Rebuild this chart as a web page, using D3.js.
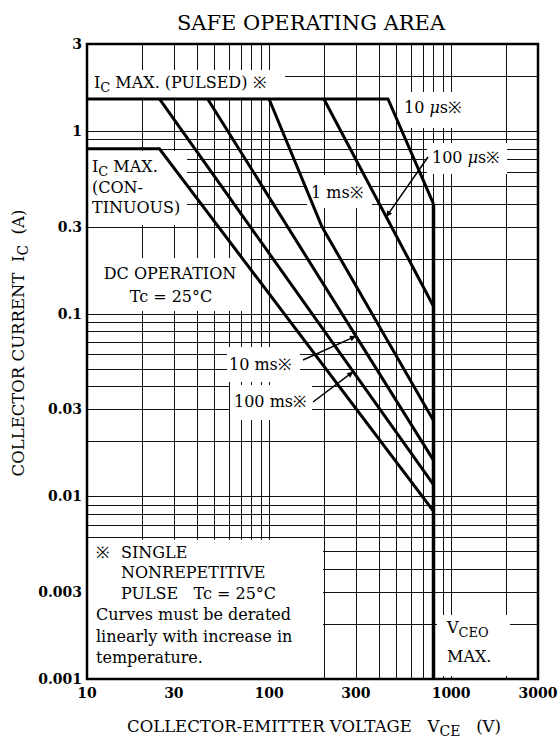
<!DOCTYPE html>
<html>
<head>
<meta charset="utf-8">
<style>
    body { margin: 0; background: #fff; }
    svg { display: block; font-family: 'DejaVu Serif', serif; }
    .grid line { stroke: #111; stroke-width: 1; shape-rendering: crispEdges; }
    .grid path { display: none; }
    .curve { fill: none; stroke: #000; stroke-width: 3; stroke-linejoin: miter; }
    .lbl { font-size: 16px; fill: #000; }
</style>
</head>
<body>
<svg width="560" height="742"></svg>

<script src="https://d3js.org/d3.v7.min.js"></script>
<script>
    // SOA limits, each point is [VCE (V), IC (A)]
    let curve10us = [[10, 1.5], [450, 1.5], [800, 0.4]];
    let curve100us = [[200, 1.5], [800, 0.11]];
    let curve1ms = [[100, 1.5], [195, 0.3], [800, 0.026]];
    let curve10ms = [[46, 1.5], [800, 0.0158]];
    let curve100ms = [[25, 1.5], [800, 0.0116]];
    let curveDC = [[10, 0.8], [25, 0.8], [800, 0.0083]];
    let vceoMax = 800;

    let xTicks = [10, 30, 100, 300, 1000, 3000];
    let yTicks = [3, 1, 0.3, 0.1, 0.03, 0.01, 0.003, 0.001];

    let margin = { top: 44, left: 87 };
    let width = 451, height = 635;

    let svg = d3.select("svg");

    let x = d3.scaleLog().domain([10, 3000]).range([margin.left, margin.left + width]);
    let y = d3.scaleLog().domain([0.001, 3]).range([margin.top + height, margin.top]);

    // gridlines from the log scales' own ticks (1..9 per decade)
    svg.append("g")
        .attr("class", "grid")
        .attr("transform", `translate(0,${margin.top + height})`)
        .call(d3.axisBottom(x).tickValues(x.ticks()).tickSize(-height).tickFormat(""));

    svg.append("g")
        .attr("class", "grid")
        .attr("transform", `translate(${margin.left},0)`)
        .call(d3.axisLeft(y).tickValues(y.ticks()).tickSize(-width).tickFormat(""));

    // white boxes behind the annotations (they cut the grid)
    let masks = [
        [88, 70, 285, 98],    // IC max pulsed
        [400, 92, 470, 128],  // 10 us
        [427, 143, 507, 174], // 100 us
        [307, 175, 372, 208], // 1 ms
        [88, 151, 187, 225],  // IC max continuous
        [88, 258, 250, 311],  // DC operation
        [227, 347, 300, 382], // 10 ms
        [230, 385, 312, 420], // 100 ms
        [88, y(0.006) + 3, 323, 679], // note
        [437, 615, 510, 676]  // VCEO max
    ];
    svg.append("g").selectAll("rect")
        .data(masks)
        .enter().append("rect")
        .attr("x", d => d[0]).attr("y", d => d[1])
        .attr("width", d => d[2] - d[0]).attr("height", d => d[3] - d[1])
        .attr("fill", "#fff");

    // frame
    svg.append("rect")
        .attr("x", margin.left).attr("y", margin.top)
        .attr("width", width).attr("height", height)
        .attr("fill", "none").attr("stroke", "#000").attr("stroke-width", 2.5);

    let line = d3.line().x(d => x(d[0])).y(d => y(d[1]));

    svg.selectAll(".curve")
        .data([curve10us, curve100us, curve1ms, curve10ms, curve100ms, curveDC])
        .enter().append("path")
        .attr("class", "curve")
        .attr("d", line);

    svg.append("line")
        .attr("x1", x(vceoMax)).attr("x2", x(vceoMax))
        .attr("y1", y(0.4)).attr("y2", y(0.001))
        .attr("stroke", "#000").attr("stroke-width", 3.5);

    // tick labels
    svg.selectAll(".xt")
        .data(xTicks)
        .enter().append("text")
        .attr("class", "xt")
        .attr("x", d => x(d))
        .attr("y", 698)
        .attr("text-anchor", "middle")
        .style("font-size", "14px").style("font-weight", "bold")
        .text(d => d);

    svg.selectAll(".yt")
        .data(yTicks)
        .enter().append("text")
        .attr("class", "yt")
        .attr("x", 82)
        .attr("y", d => y(d))
        .attr("dy", "0.35em")
        .attr("text-anchor", "end")
        .style("font-size", "14px").style("font-weight", "bold")
        .text(d => d);

    // title + axis titles
    svg.append("text")
        .attr("x", 311).attr("y", 30)
        .attr("text-anchor", "middle")
        .style("font-size", "21px")
        .text("SAFE OPERATING AREA");

    let xt = svg.append("text").attr("class", "lbl")
        .attr("x", 314).attr("y", 732).attr("text-anchor", "middle")
        .style("font-size", "16.5px");
    xt.append("tspan").text("COLLECTOR-EMITTER VOLTAGE\u00a0\u00a0\u00a0V");
    xt.append("tspan").attr("dy", 4).style("font-size", "14px").text("CE");
    xt.append("tspan").attr("dy", -4).text("\u00a0\u00a0\u00a0(V)");

    let yt = svg.append("text").attr("class", "lbl")
        .attr("transform", "translate(24,343) rotate(-90)")
        .attr("text-anchor", "middle")
        .style("font-size", "16.5px");
    yt.append("tspan").text("COLLECTOR CURRENT\u00a0\u00a0I");
    yt.append("tspan").attr("dy", 4).style("font-size", "14px").text("C");
    yt.append("tspan").attr("dy", -4).text("\u00a0\u00a0(A)");

    // annotations
    function label(px, py, parts) {
        let t = svg.append("text").attr("class", "lbl").attr("x", px).attr("y", py);
        parts.forEach(p => {
            let s = t.append("tspan").text(p.t);
            if (p.sub) s.attr("dy", 3.5).style("font-size", "13px");
            if (p.up) s.attr("dy", -3.5);
            if (p.it) s.style("font-style", "italic");
        });
        return t;
    }

    label(94, 88, [{ t: "I" }, { t: "C", sub: true }, { t: " MAX. (PULSED) \u203b", up: true }]);
    label(404, 113, [{ t: "10 " }, { t: "\u03bc", it: true }, { t: "s\u203b" }]);
    label(432, 163, [{ t: "100 " }, { t: "\u03bc", it: true }, { t: "s\u203b" }]);
    label(311, 198, [{ t: "1 ms\u203b" }]);
    label(92, 172, [{ t: "I" }, { t: "C", sub: true }, { t: " MAX.", up: true }]);
    label(92, 193, [{ t: "(CON-" }]);
    label(92, 213, [{ t: "TINUOUS)" }]);
    label(170, 279, [{ t: "DC OPERATION" }]).attr("text-anchor", "middle");
    label(171, 302, [{ t: "Tc = 25\u00b0C" }]).attr("text-anchor", "middle");
    label(229, 370, [{ t: "10 ms\u203b" }]);
    label(234, 407, [{ t: "100 ms\u203b" }]);

    label(96, 558, [{ t: "\u203b" }]);
    label(121, 558, [{ t: "SINGLE" }]);
    label(121, 578, [{ t: "NONREPETITIVE" }]);
    label(121, 599, [{ t: "PULSE\u00a0\u00a0\u00a0Tc = 25\u00b0C" }]);
    label(96, 620, [{ t: "Curves must be derated" }]);
    label(96, 642, [{ t: "linearly with increase in" }]);
    label(96, 663, [{ t: "temperature." }]);

    label(447, 633, [{ t: "V" }, { t: "CEO", sub: true }]);
    label(447, 662, [{ t: "MAX." }]);

    // arrows pointing at the curves
    function curveAt(pts, v) {
        for (let i = 0; i < pts.length - 1; i++) {
            let a = pts[i], b = pts[i + 1];
            if (v >= a[0] && v <= b[0]) {
                let t = (Math.log(v) - Math.log(a[0])) / (Math.log(b[0]) - Math.log(a[0]));
                return Math.exp(Math.log(a[1]) + t * (Math.log(b[1]) - Math.log(a[1])));
            }
        }
        return pts[pts.length - 1][1];
    }

    svg.append("defs").append("marker")
        .attr("id", "head")
        .attr("viewBox", "0 0 10 10")
        .attr("refX", 10).attr("refY", 5)
        .attr("markerWidth", 11).attr("markerHeight", 6)
        .attr("markerUnits", "userSpaceOnUse")
        .attr("orient", "auto")
        .append("path").attr("d", "M0,0 L10,5 L0,10 z").attr("fill", "#000");

    let arrows = [
        [428, 157, curve100us, 440],
        [303, 360, curve10ms, 300],
        [313, 402, curve100ms, 290]
    ];
    svg.selectAll(".arrow")
        .data(arrows)
        .enter().append("line")
        .attr("class", "arrow")
        .attr("x1", d => d[0]).attr("y1", d => d[1])
        .attr("x2", d => x(d[3]))
        .attr("y2", d => y(curveAt(d[2], d[3])))
        .attr("stroke", "#000").attr("stroke-width", 1.5)
        .attr("marker-end", "url(#head)");
</script>
</body>
</html>
